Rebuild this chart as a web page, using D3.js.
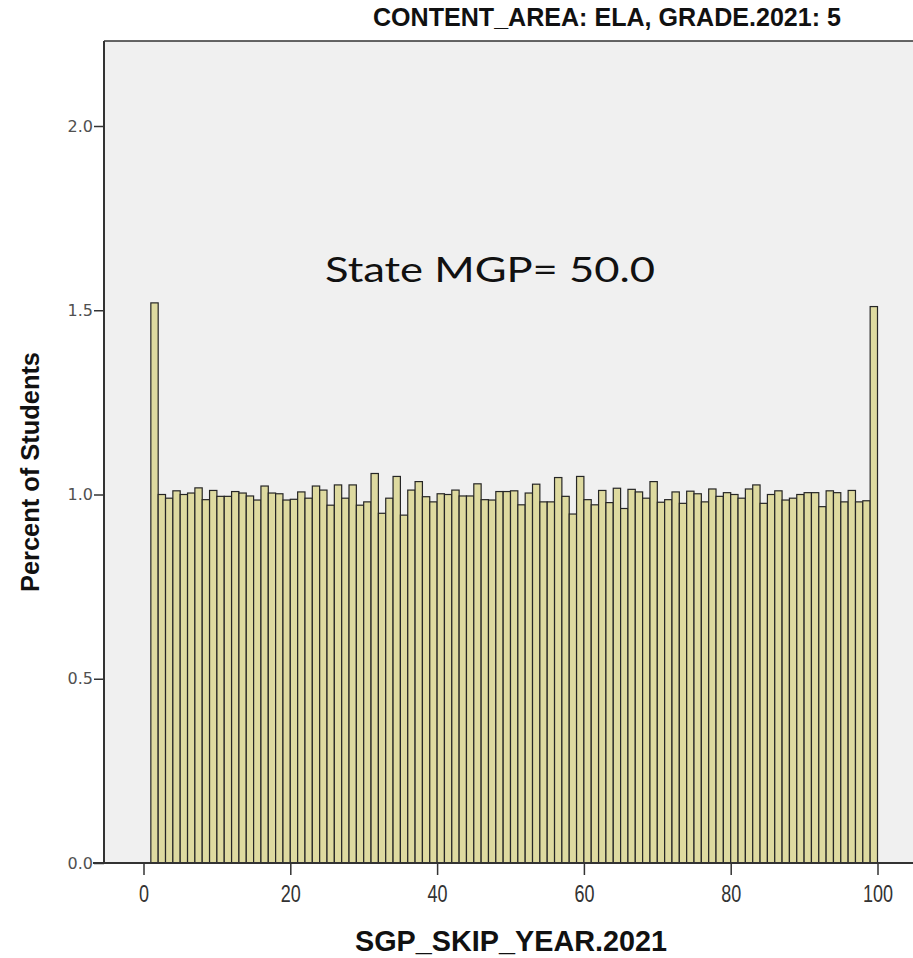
<!DOCTYPE html>
<html>
<head>
<meta charset="utf-8">
<script src="https://cdn.jsdelivr.net/npm/d3@7"></script>
<style>
  html, body { margin: 0; padding: 0; background: #ffffff; }
  svg { display: block; }
</style>
</head>
<body>
<div id="chart"></div>
<script>
// ---- Data ----
const sgpBins = d3.range(1, 100); // SGP 1..99, each bin [k, k+1)
const percentValues = [
  1.520, 1.000, 0.990, 1.010, 1.000, 1.004, 1.018, 0.986, 1.011, 0.995,
  0.995, 1.008, 1.004, 0.996, 0.985, 1.023, 1.004, 1.002, 0.985, 0.987,
  1.007, 0.990, 1.023, 1.012, 0.971, 1.026, 0.990, 1.026, 0.971, 0.980,
  1.057, 0.949, 0.990, 1.049, 0.944, 1.012, 1.035, 0.994, 0.980, 1.002,
  1.000, 1.012, 0.996, 0.996, 1.029, 0.986, 0.985, 1.008, 1.008, 1.010,
  0.972, 1.004, 1.028, 0.980, 0.980, 1.046, 0.995, 0.947, 1.049, 0.986,
  0.972, 1.011, 0.978, 1.017, 0.962, 1.014, 1.007, 0.990, 1.035, 0.979,
  0.986, 1.007, 0.976, 1.009, 1.002, 0.980, 1.015, 0.995, 1.005, 1.000,
  0.990, 1.015, 1.026, 0.976, 1.000, 1.010, 0.985, 0.990, 1.000, 1.005,
  1.005, 0.967, 1.010, 1.005, 0.980, 1.011, 0.980, 0.983, 1.510
];
const xTickValues = [0, 20, 40, 60, 80, 100];
const yTickValues = [0.0, 0.5, 1.0, 1.5, 2.0];
const chartTitle = "CONTENT_AREA: ELA, GRADE.2021: 5";
const xAxisTitle = "SGP_SKIP_YEAR.2021";
const yAxisTitle = "Percent of Students";
const annotation = "State MGP= 50.0";

// ---- Layout ----
const W = 913, H = 958;
const frame = { left: 104, top: 41, right: 930, bottom: 863 };

const x = d3.scaleLinear().domain([0, 100]).range([143.5, 877.5]);
const y = d3.scaleLinear().domain([0, 2]).range([863, 126]);

const svg = d3.select("#chart").append("svg")
  .attr("width", W).attr("height", H);

// plot background
svg.append("rect")
  .attr("x", frame.left).attr("y", frame.top)
  .attr("width", frame.right - frame.left).attr("height", frame.bottom - frame.top)
  .attr("fill", "#f0f0f0");

// bars
svg.append("g").selectAll("rect")
  .data(sgpBins.map((b, i) => ({ bin: b, v: percentValues[i] })))
  .join("rect")
  .attr("x", d => x(d.bin))
  .attr("width", d => x(d.bin + 1) - x(d.bin))
  .attr("y", d => y(d.v))
  .attr("height", d => y(0) - y(d.v))
  .attr("fill", "#dedaa0")
  .attr("stroke", "#262626")
  .attr("stroke-width", 1.2);

// frame top line
svg.append("line")
  .attr("x1", frame.left).attr("x2", W)
  .attr("y1", frame.top).attr("y2", frame.top)
  .attr("stroke", "#333").attr("stroke-width", 1.5);

// y axis
const yAxis = d3.axisLeft(y).tickValues(yTickValues)
  .tickFormat(d3.format(".1f")).tickSize(10).tickSizeOuter(0);
const gy = svg.append("g").attr("transform", `translate(${frame.left},0)`).call(yAxis);
gy.attr("font-size", null).attr("font-family", null);
gy.select(".domain").attr("stroke", "#333").attr("stroke-width", 2)
  .attr("d", `M0,${frame.top}V${frame.bottom}`);
gy.selectAll(".tick line").attr("stroke", "#333").attr("stroke-width", 1.5);
gy.selectAll(".tick text")
  .attr("x", -11)
  .attr("fill", "#505050")
  .attr("font-family", "'DejaVu Sans', sans-serif")
  .attr("font-size", 16);

// x axis
const xAxis = d3.axisBottom(x).tickValues(xTickValues)
  .tickFormat(d3.format("d")).tickSize(12).tickSizeOuter(0);
const gx = svg.append("g").attr("transform", `translate(0,${frame.bottom})`).call(xAxis);
gx.attr("font-size", null).attr("font-family", null);
gx.select(".domain").attr("stroke", "#333").attr("stroke-width", 2)
  .attr("d", `M${frame.left - 11},0H${W}`);
gx.selectAll(".tick line").attr("stroke", "#333").attr("stroke-width", 1.5);
gx.selectAll(".tick text")
  .attr("y", 22)
  .attr("transform", "scale(0.75,1)")
  .attr("fill", "#333")
  .attr("font-family", "'Liberation Sans', Arial, sans-serif")
  .attr("font-size", 24);

// chart title
svg.append("text")
  .attr("x", 607).attr("y", 26)
  .attr("text-anchor", "middle")
  .attr("textLength", 468).attr("lengthAdjust", "spacingAndGlyphs")
  .attr("font-family", "'Liberation Sans', Arial, sans-serif")
  .attr("font-weight", "bold").attr("font-size", 26)
  .attr("fill", "#111")
  .text(chartTitle);

// x axis title
svg.append("text")
  .attr("x", 511).attr("y", 951)
  .attr("text-anchor", "middle")
  .attr("textLength", 312).attr("lengthAdjust", "spacingAndGlyphs")
  .attr("font-family", "'Liberation Sans', Arial, sans-serif")
  .attr("font-weight", "bold").attr("font-size", 29)
  .attr("fill", "#111")
  .text(xAxisTitle);

// y axis title
svg.append("text")
  .attr("transform", "translate(39,472) rotate(-90)")
  .attr("text-anchor", "middle")
  .attr("textLength", 240).attr("lengthAdjust", "spacingAndGlyphs")
  .attr("font-family", "'Liberation Sans', Arial, sans-serif")
  .attr("font-weight", "bold").attr("font-size", 25)
  .attr("fill", "#111")
  .text(yAxisTitle);

// annotation
svg.append("text")
  .attr("x", 490).attr("y", 282)
  .attr("text-anchor", "middle")
  .attr("textLength", 330).attr("lengthAdjust", "spacingAndGlyphs")
  .attr("font-family", "Lato, 'Open Sans', sans-serif")
  .attr("font-size", 35)
  .attr("fill", "#111")
  .text(annotation);
</script>
</body>
</html>
